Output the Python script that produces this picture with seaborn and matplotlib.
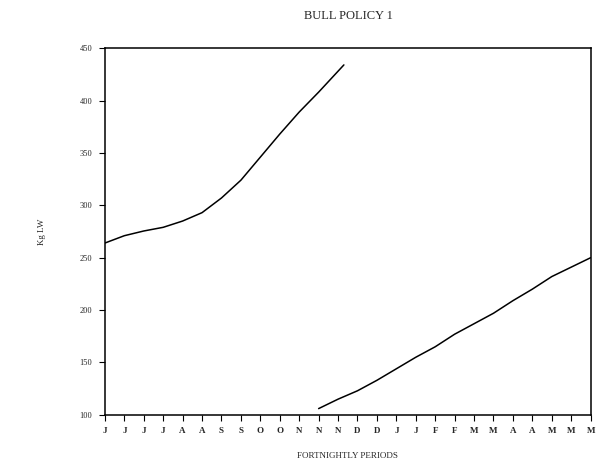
import matplotlib
matplotlib.use("Agg")
import matplotlib.pyplot as plt
import seaborn as sns
import pandas as pd

# Tick labels (fortnightly periods)
period_labels = ["J", "J", "J", "J", "A", "A", "S", "S", "O", "O", "N", "N", "N",
                 "D", "D", "J", "J", "F", "F", "M", "M", "A", "A", "M", "M", "M"]

# Series 1 (first growth phase)
s1_period = [0, 1, 2, 3, 4, 5, 6, 7, 8, 9, 10, 11, 12, 12.3]
s1_kg = [264, 271, 275.5, 279, 285, 293, 307, 324, 346, 368, 389, 408, 428, 434]

# Series 2 (second growth phase)
s2_period = [11, 12, 13, 14, 15, 16, 17, 18, 19, 20, 21, 22, 23, 24, 25]
s2_kg = [106, 115, 123, 133, 144, 155, 165, 177, 187, 197, 209, 220, 232, 241, 250]

y_ticks = [100, 150, 200, 250, 300, 350, 400, 450]

sns.set_style("ticks")
plt.rcParams["font.family"] = ["Liberation Serif", "DejaVu Serif"]

fig = plt.figure(figsize=(5.96, 4.72), dpi=100)
ax = fig.add_axes([0.176, 0.121, 0.815, 0.777])

df1 = pd.DataFrame({"period": s1_period, "kg": s1_kg})
df2 = pd.DataFrame({"period": s2_period, "kg": s2_kg})
sns.lineplot(data=df1, x="period", y="kg", ax=ax, color="black", linewidth=1.1)
sns.lineplot(data=df2, x="period", y="kg", ax=ax, color="black", linewidth=1.1)

ax.set_xlim(0, 25)
ax.set_ylim(100, 450)
ax.set_xticks(range(len(period_labels)))
ax.set_xticklabels(period_labels, fontsize=6.5, fontweight="bold")
ax.set_yticks(y_ticks)
ax.set_yticklabels([str(v) for v in y_ticks], fontsize=6)
ax.tick_params(axis="both", direction="out", length=4, width=0.8, color="black", pad=5)
for sp in ax.spines.values():
    sp.set_linewidth(1.1)
    sp.set_color("black")

ax.set_xlabel("FORTNIGHTLY PERIODS", fontsize=6.5, labelpad=12)
ax.set_ylabel("Kg LW", fontsize=6.5, labelpad=24)
fig.text(0.584, 0.967, "BULL POLICY 1", ha="center", va="center", fontsize=9)

fig.savefig("out.png", dpi=100)
